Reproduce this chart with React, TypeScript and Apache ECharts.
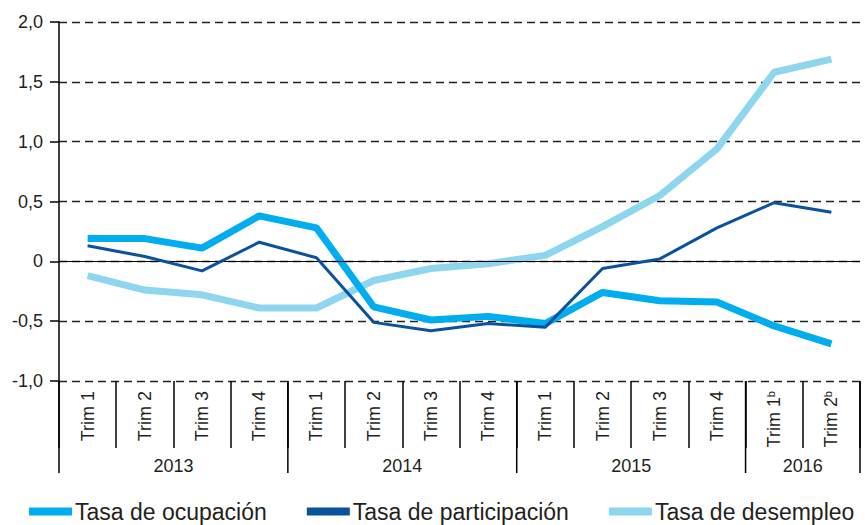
import { useEffect, useRef } from 'react';
import * as echarts from 'echarts';

const categories = ['Trim 1', 'Trim 2', 'Trim 3', 'Trim 4', 'Trim 1', 'Trim 2', 'Trim 3', 'Trim 4', 'Trim 1', 'Trim 2', 'Trim 3', 'Trim 4', 'Trim 1b', 'Trim 2b'];
const years = ['2013', '2014', '2015', '2016'];
const yearSpans = [4, 4, 4, 2];
const ocupacion = [0.19, 0.19, 0.11, 0.38, 0.28, -0.38, -0.49, -0.46, -0.52, -0.26, -0.33, -0.34, -0.54, -0.69];
const participacion = [0.13, 0.04, -0.08, 0.16, 0.03, -0.51, -0.58, -0.52, -0.55, -0.06, 0.02, 0.28, 0.49, 0.41];
const desempleo = [-0.12, -0.24, -0.28, -0.39, -0.39, -0.16, -0.06, -0.02, 0.05, 0.29, 0.55, 0.94, 1.58, 1.69];
const seriesNames = ['Tasa de ocupación', 'Tasa de participación', 'Tasa de desempleo'];
const seriesColors = ['#00AEEF', '#0B529C', '#8DD6EE'];

const FONT = '"Liberation Sans", Arial, sans-serif';
const TEXT = '#231f20';

export default function App() {
  const ref = useRef<HTMLDivElement>(null);
  useEffect(() => {
    document.body.style.margin = '0';
    const chart = echarts.init(ref.current!, null, { renderer: 'svg' });
    chart.setOption({
      animation: false,
      textStyle: { fontFamily: FONT },
      grid: { left: 59, right: 7, top: 22, bottom: 144 },
      legend: {
        data: seriesNames,
        left: 24,
        top: 495,
        width: 2000,
        icon: 'rect',
        itemWidth: 43,
        itemHeight: 8,
        itemGap: 40,
        textStyle: { fontSize: 23, color: TEXT, fontFamily: FONT, padding: [0, 0, 0, -2] },
      },
      xAxis: {
        type: 'category',
        data: categories,
        boundaryGap: true,
        position: 'bottom',
        axisLine: { show: false, onZero: false },
        axisTick: { show: true, interval: 0, length: 67, lineStyle: { color: '#000', width: 1.5 } },
        axisLabel: {
          interval: 0,
          rotate: 90,
          margin: 10,
          fontSize: 18,
          color: TEXT,
          fontFamily: FONT,
          formatter: (v: string) => (v.endsWith('b') ? `${v.slice(0, -1)}{sup|b}` : v),
          rich: { sup: { fontSize: 11, color: TEXT, fontFamily: FONT, verticalAlign: 'top' } },
        },
        splitLine: { show: false },
      },
      yAxis: {
        type: 'value',
        min: -1,
        max: 2,
        interval: 0.5,
        axisLine: { show: true, lineStyle: { color: '#000', width: 1.5 } },
        axisTick: { show: true, length: 9, lineStyle: { color: '#000', width: 1.5 } },
        axisLabel: {
          margin: 16,
          fontSize: 18,
          color: TEXT,
          fontFamily: FONT,
          formatter: (v: number) => (v === 0 ? '0' : v.toFixed(1).replace('.', ',')),
        },
        splitLine: { show: true, lineStyle: { color: '#222', type: [8, 5], width: 1.3 } },
      },
      series: [
        {
          name: '__zero',
          type: 'line',
          data: [],
          z: 1,
          silent: true,
          markLine: {
            silent: true,
            symbol: ['none', 'none'],
            label: { show: false },
            lineStyle: { color: '#000', type: 'solid', width: 1.2 },
            data: [{ yAxis: 0 }],
          },
        },
        {
          name: seriesNames[0],
          type: 'line',
          data: ocupacion,
          symbol: 'none',
          z: 4,
          color: seriesColors[0],
          lineStyle: { color: seriesColors[0], width: 7 },
        },
        {
          name: seriesNames[1],
          type: 'line',
          data: participacion,
          symbol: 'none',
          z: 5,
          color: seriesColors[1],
          lineStyle: { color: seriesColors[1], width: 3 },
        },
        {
          name: seriesNames[2],
          type: 'line',
          data: desempleo,
          symbol: 'none',
          z: 3,
          color: seriesColors[2],
          lineStyle: { color: seriesColors[2], width: 7 },
        },
      ],
    });

    const p0 = chart.convertToPixel({ xAxisIndex: 0 }, 0) as number;
    const p1 = chart.convertToPixel({ xAxisIndex: 0 }, 1) as number;
    const bw = p1 - p0;
    const yBottom = chart.convertToPixel({ yAxisIndex: 0 }, -1) as number;
    const elements: any[] = [];
    let idx = 0;
    const boundaries: number[] = [0];
    years.forEach((yr, i) => {
      const start = p0 - bw / 2 + idx * bw;
      const end = start + yearSpans[i] * bw;
      elements.push({
        type: 'text',
        x: (start + end) / 2,
        y: yBottom + 85,
        style: {
          text: yr,
          fontSize: 18,
          fontFamily: FONT,
          fill: TEXT,
          align: 'center',
          verticalAlign: 'middle',
          textAlign: 'center',
          textVerticalAlign: 'middle',
        },
        silent: true,
      });
      idx += yearSpans[i];
      boundaries.push(idx);
    });
    boundaries.forEach((b) => {
      const x = p0 - bw / 2 + b * bw;
      elements.push({
        type: 'line',
        shape: { x1: x, y1: yBottom, x2: x, y2: yBottom + 92 },
        style: { stroke: '#000', lineWidth: 1.5 },
        silent: true,
      });
    });
    chart.setOption({ graphic: elements });

    return () => chart.dispose();
  }, []);
  return <div ref={ref} style={{ width: 867, height: 525 }} />;
}
